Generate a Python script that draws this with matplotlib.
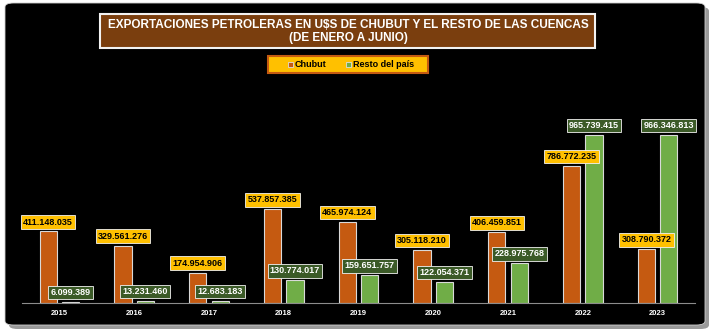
import matplotlib
matplotlib.use("Agg")
import matplotlib.pyplot as plt
from matplotlib.patches import FancyBboxPatch, Rectangle
import numpy as np

years = ["2015", "2016", "2017", "2018", "2019", "2020", "2021", "2022", "2023"]
chubut = [411148035, 329561276, 174954906, 537857385, 465974124, 305118210, 406459851, 786772235, 308790372]
resto = [6099389, 13231460, 12683183, 130774017, 159651757, 122054371, 228975768, 965739415, 966346813]
series_names = ["Chubut", "Resto del país"]
title = "EXPORTACIONES PETROLERAS EN U$S DE CHUBUT Y EL RESTO DE LAS CUENCAS\n(DE ENERO A JUNIO)"

FONT = ["Liberation Sans Narrow", "Liberation Sans", "DejaVu Sans"]
plt.rcParams['font.family'] = FONT

W, H = 715, 335
fig = plt.figure(figsize=(W/100, H/100), dpi=100)
fig.patch.set_facecolor("white")

def fx(px): return px / W
def fy(py): return 1 - py / H

# shadow + black panel
shadow = FancyBboxPatch((fx(9), fy(329)), fx(700), fy(7) - fy(329),
                        boxstyle="round,pad=0,rounding_size=0.012",
                        transform=fig.transFigure, facecolor="#9a9a9a", edgecolor="none", zorder=0)
fig.patches.append(shadow)
panel = FancyBboxPatch((fx(5), fy(325)), fx(700), fy(3) - fy(325),
                       boxstyle="round,pad=0,rounding_size=0.012",
                       transform=fig.transFigure, facecolor="black", edgecolor="#cfcfcf", lw=0.6, zorder=0.5)
fig.patches.append(panel)

# title box
fig.patches.append(Rectangle((fx(100), fy(48)), fx(495), fy(14) - fy(48), transform=fig.transFigure,
                             facecolor="#7A3E0E", edgecolor="#f2f2f2", lw=1.5, zorder=1))
fig.text(fx(348), fy(31.5), title, ha="center", va="center", color="white", fontsize=8.5,
         fontweight="bold", linespacing=1.15, zorder=2)

# legend box
fig.patches.append(Rectangle((fx(268), fy(73)), fx(160), fy(56) - fy(73), transform=fig.transFigure,
                             facecolor="#FFC000", edgecolor="#C55A11", lw=1.5, zorder=1))
orange = "#C55A11"
green = "#70AD47"
for mx, col, name in [(290, orange, series_names[0]), (348, green, series_names[1])]:
    fig.patches.append(Rectangle((fx(mx - 2.5), fy(67)), fx(5), fy(62) - fy(67), transform=fig.transFigure,
                                 facecolor=col, edgecolor="#dddddd", lw=0.6, zorder=2))
    fig.text(fx(mx + 5), fy(64.5), name, ha="left", va="center", color="black", fontsize=6.5,
             fontweight="bold", zorder=2)

ax = fig.add_axes([fx(22), fy(303), fx(695) - fx(22), fy(94) - fy(303)])
ax.set_zorder(3)
ax.set_facecolor("none")
x = np.arange(len(years))
bw = 0.23
off = 0.15
ax.bar(x - off, chubut, bw, color=orange, edgecolor="#d9d9d9", lw=0.8, zorder=2)
ax.bar(x + off, resto, bw, color=green, edgecolor="#d9d9d9", lw=0.8, zorder=2)
ax.set_xlim(-0.5, len(years) - 0.5)
ax.set_ylim(0, 1.2e9)
for s in ["left", "right", "top"]:
    ax.spines[s].set_visible(False)
ax.spines["bottom"].set_color("#8c8c8c")
ax.spines["bottom"].set_linewidth(0.8)
ax.set_yticks([])
ax.set_xticks(x)
ax.set_xticklabels(years, color="white", fontsize=5.5, fontweight="bold")
ax.tick_params(axis="x", length=0, pad=5)

def fmt(v):
    return f"{v:,}".replace(",", ".")

for xi, v in zip(x - off, chubut):
    ax.annotate(fmt(v), (xi, v), xytext=(0, 3.5), textcoords="offset points", ha="center", va="bottom",
                fontsize=6.5, fontweight="bold", color="black", zorder=5, annotation_clip=False,
                bbox=dict(boxstyle="square,pad=0.25", facecolor="#FFC000", edgecolor="#f2f2f2", lw=0.6))
for xi, v in zip(x + off, resto):
    ax.annotate(fmt(v), (xi, v), xytext=(0, 3.5), textcoords="offset points", ha="center", va="bottom",
                fontsize=6.5, fontweight="bold", color="white", zorder=5, annotation_clip=False,
                bbox=dict(boxstyle="square,pad=0.25", facecolor="#3B5A27", edgecolor="#f2f2f2", lw=0.6))

fig.savefig("out.png", dpi=100)
